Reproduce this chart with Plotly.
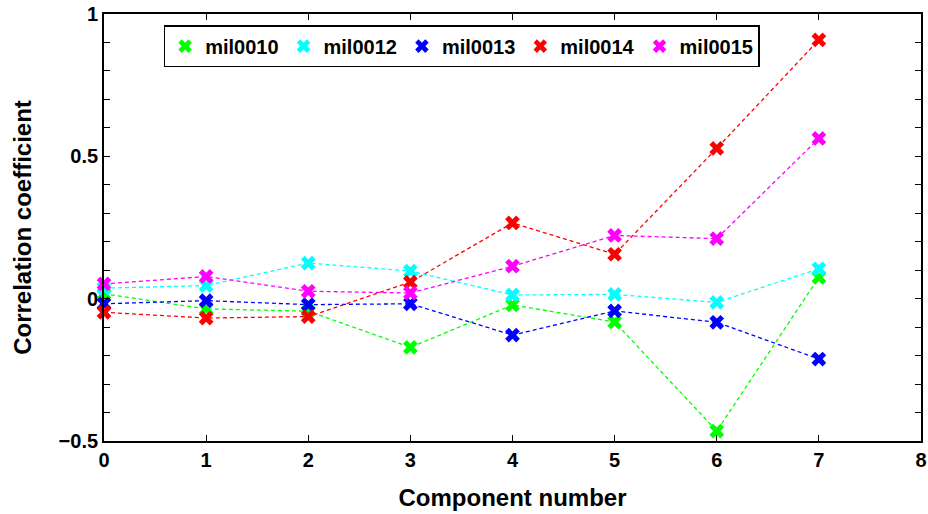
import plotly.graph_objects as go

components = [0, 1, 2, 3, 4, 5, 6, 7]
series_names = ["mil0010", "mil0012", "mil0013", "mil0014", "mil0015"]
mil0010 = [0.017, -0.036, -0.044, -0.171, -0.022, -0.082, -0.465, 0.075]
mil0012 = [0.037, 0.046, 0.125, 0.097, 0.013, 0.015, -0.013, 0.105]
mil0013 = [-0.018, -0.007, -0.021, -0.018, -0.128, -0.043, -0.083, -0.212]
mil0014 = [-0.048, -0.068, -0.063, 0.058, 0.266, 0.156, 0.528, 0.909]
mil0015 = [0.052, 0.078, 0.026, 0.020, 0.114, 0.222, 0.211, 0.563]
series_values = [mil0010, mil0012, mil0013, mil0014, mil0015]
colors = ["#00ff00", "#00ffff", "#0000ff", "#ff0000", "#ff00ff"]

y_tickvals = [round(-0.5 + 0.1 * i, 1) for i in range(16)]
y_ticklabels = {-0.5: "\u22120.5", 0.0: "0", 0.5: "0.5", 1.0: "1"}
x_tickvals = list(range(9))

FONT = "Liberation Sans"

fig = go.Figure()
for name, vals, col in zip(series_names, series_values, colors):
    fig.add_trace(go.Scatter(
        x=components, y=vals, mode="lines+markers", name=name,
        line=dict(color=col, width=1.3, dash="4px,3px"),
        marker=dict(symbol="x", size=13, color=col, line=dict(width=0)),
        showlegend=False, cliponaxis=False,
    ))
for name, col in zip(series_names, colors):
    fig.add_trace(go.Scatter(
        x=[None], y=[None], mode="markers", name=name,
        marker=dict(symbol="x", size=12, color=col, line=dict(width=0)),
        showlegend=True,
    ))

axis_common = dict(
    showline=True, linecolor="black", linewidth=1.8, mirror="allticks",
    ticks="inside", ticklen=6, tickwidth=1, tickcolor="black",
    showgrid=False, zeroline=False, automargin=False,
    tickfont=dict(family=FONT, size=20, color="black", weight="bold"),
)

fig.update_layout(
    width=928, height=514,
    margin=dict(l=104, r=7, t=14, b=73),
    paper_bgcolor="white", plot_bgcolor="white",
    font=dict(family=FONT, color="black"),
    xaxis=dict(
        range=[0, 8], tickvals=x_tickvals,
        ticktext=[str(v) for v in x_tickvals],
        title=dict(text="<b>Component number</b>", font=dict(family=FONT, size=24, color="black"), standoff=19),
        **axis_common,
    ),
    yaxis=dict(
        range=[-0.5, 1], tickvals=y_tickvals,
        ticktext=[y_ticklabels.get(v, "") for v in y_tickvals],
        title=dict(text="<b>Correlation coefficient</b>", font=dict(family=FONT, size=24, color="black"), standoff=20),
        **axis_common,
    ),
    legend=dict(
        orientation="h", x=0.073, y=0.974, xanchor="left", yanchor="top",
        bordercolor="black", borderwidth=1.5, bgcolor="white",
        font=dict(family=FONT, size=20, color="black", weight="bold"),
        itemwidth=30, tracegroupgap=0,
    ),
)

fig.write_html(
    "out.html",
    config={"displayModeBar": False},
    post_script="document.body.style.margin='0';document.body.style.overflow='hidden';",
)
